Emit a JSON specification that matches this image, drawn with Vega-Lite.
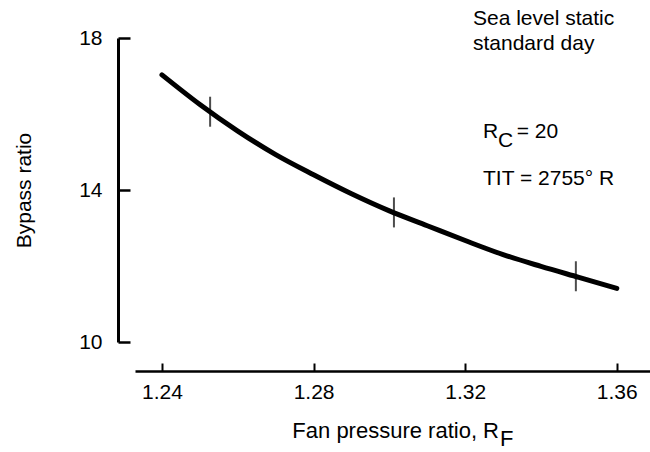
{
  "$schema": "https://vega.github.io/schema/vega-lite/v6.json",
  "autosize": {"type": "none"},
  "padding": {"left": 135, "top": 38, "right": 0, "bottom": 110},
  "width": 515,
  "height": 304,
  "background": "white",
  "config": {
    "font": "Liberation Sans",
    "view": {"stroke": null},
    "axis": {"grid": false, "domainColor": "black", "tickColor": "black", "labelColor": "black", "titleColor": "black", "labelFont": "Liberation Sans", "titleFont": "Liberation Sans", "labelFontSize": 21, "titleFontSize": 21, "titleFontWeight": "normal"}
  },
  "datasets": {
    "curve": [
      {"rf": 1.24, "bpr": 17.03},
      {"rf": 1.25, "bpr": 16.25},
      {"rf": 1.26, "bpr": 15.55},
      {"rf": 1.27, "bpr": 14.93},
      {"rf": 1.28, "bpr": 14.40},
      {"rf": 1.29, "bpr": 13.90},
      {"rf": 1.30, "bpr": 13.45},
      {"rf": 1.31, "bpr": 13.06},
      {"rf": 1.32, "bpr": 12.67},
      {"rf": 1.33, "bpr": 12.30},
      {"rf": 1.34, "bpr": 11.99},
      {"rf": 1.35, "bpr": 11.70},
      {"rf": 1.36, "bpr": 11.41}
    ],
    "points": [
      {"rf": 1.2527, "bpr": 16.06},
      {"rf": 1.3012, "bpr": 13.41},
      {"rf": 1.3492, "bpr": 11.73}
    ],
    "notes": [
      {"text": "Sea level static", "rf": 1.32206, "bpr": 18.34},
      {"text": "standard day", "rf": 1.32206, "bpr": 17.68},
      {"text": "R", "rf": 1.3247, "bpr": 15.37},
      {"text": "C", "rf": 1.32865, "bpr": 15.13},
      {"text": "= 20", "rf": 1.3336, "bpr": 15.37},
      {"text": "TIT = 2755° R", "rf": 1.3247, "bpr": 14.13}
    ],
    "xtitle": [
      {"text": "Fan pressure ratio, R", "rf": 1.32892, "bpr": 7.47}
    ],
    "xsub": [
      {"text": "F", "rf": 1.32918, "bpr": 7.27}
    ]
  },
  "layer": [
    {
      "data": {"name": "curve"},
      "mark": {"type": "line", "color": "black", "strokeWidth": 5, "interpolate": "monotone", "strokeCap": "round"},
      "encoding": {
        "x": {"field": "rf", "type": "quantitative", "scale": {"domain": [1.23288, 1.36876], "nice": false, "zero": false},
          "axis": {"values": [1.24, 1.28, 1.32, 1.36], "format": ".2f", "title": null, "offset": 29, "tickSize": -8, "tickWidth": 2, "domainWidth": 2.5, "labelPadding": 18}},
        "y": {"field": "bpr", "type": "quantitative", "scale": {"domain": [10, 18], "nice": false, "zero": false},
          "axis": {"values": [10, 14, 18], "title": "Bypass ratio", "offset": 17, "tickSize": -12, "tickWidth": 2.5, "domainWidth": 3, "labelPadding": 28, "titlePadding": 44}}
      }
    },
    {
      "data": {"name": "points"},
      "mark": {"type": "tick", "color": "black", "orient": "vertical", "size": 30, "thickness": 2},
      "encoding": {
        "x": {"field": "rf", "type": "quantitative"},
        "y": {"field": "bpr", "type": "quantitative"}
      }
    },
    {
      "data": {"name": "notes"},
      "mark": {"type": "text", "align": "left", "baseline": "alphabetic", "fontSize": 21, "color": "black", "clip": false},
      "encoding": {
        "x": {"field": "rf", "type": "quantitative"},
        "y": {"field": "bpr", "type": "quantitative"},
        "text": {"field": "text"}
      }
    },
    {
      "data": {"name": "xtitle"},
      "mark": {"type": "text", "align": "right", "baseline": "alphabetic", "fontSize": 22, "color": "black", "clip": false},
      "encoding": {
        "x": {"field": "rf", "type": "quantitative"},
        "y": {"field": "bpr", "type": "quantitative"},
        "text": {"field": "text"}
      }
    },
    {
      "data": {"name": "xsub"},
      "mark": {"type": "text", "align": "left", "baseline": "alphabetic", "fontSize": 22, "color": "black", "clip": false},
      "encoding": {
        "x": {"field": "rf", "type": "quantitative"},
        "y": {"field": "bpr", "type": "quantitative"},
        "text": {"field": "text"}
      }
    }
  ]
}
